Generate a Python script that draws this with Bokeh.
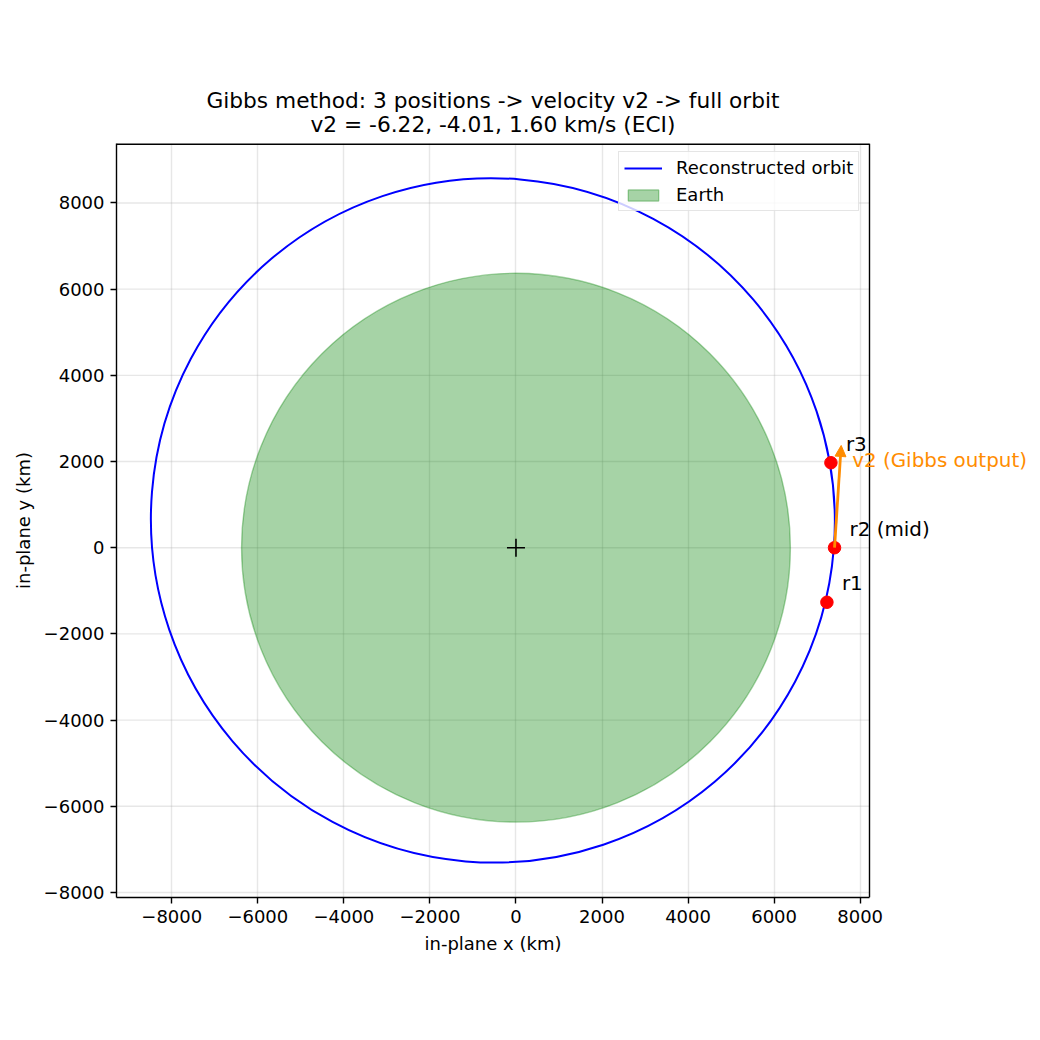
from bokeh.plotting import figure
from bokeh.models import (Range1d, FixedTicker, Title, Legend, LegendItem, Arrow,
                          NormalHead, ColumnDataSource, LabelSet, Label)
from bokeh.core.properties import value
from bokeh.embed import file_html
from bokeh.resources import INLINE

# ---- data ----
point_labels = ["r1", "r2 (mid)", "r3"]
point_x_km = [7227, 7404, 7320]
point_y_km = [-1266, 0, 1972]

orbit_center_x_km = [-537]
orbit_center_y_km = [634]
orbit_major_km = [15936]
orbit_minor_km = [15850]
orbit_angle_rad = [-0.867]

earth_radius_km = [6378]
earth_center_x_km = [0]
earth_center_y_km = [0]

v2_arrow_dx_km = [155]
v2_arrow_dy_km = [2373]

tick_values = [-8000, -6000, -4000, -2000, 0, 2000, 4000, 6000, 8000]

# axis limits of the reference
x_lim = [-9285, 8217]
y_lim = [-8117, 9380]

title_line1 = "Gibbs method: 3 positions -> velocity v2 -> full orbit"
title_line2 = "v2 = -6.22, -4.01, 1.60 km/s (ECI)"
x_label = "in-plane x (km)"
y_label = "in-plane y (km)"

FONT = "DejaVu Sans"
NAN = float("nan")

# ---- layout: the drawing frame extends to the right of the axes box so
# that the annotations that cross the box edge are not clipped ----
W = H = 1040
BL, BT, BB = 116, 143, 143
BOX_W = 753                       # width of the visible axes box in px
BR = 5
frame_w = W - BL - BR
km_per_px = (x_lim[1] - x_lim[0]) / BOX_W
x_end = x_lim[0] + frame_w * km_per_px

p = figure(width=W, height=H, output_backend="svg", toolbar_location=None,
           x_range=Range1d(x_lim[0], x_end), y_range=Range1d(y_lim[0], y_lim[1]),
           min_border_left=BL, min_border_right=BR, min_border_top=BT,
           min_border_bottom=BB)
p.background_fill_color = "white"
p.border_fill_color = "white"
p.outline_line_color = None

# titles (left aligned with offsets so they are centred over the axes box)
p.title.text = title_line1
p.title.align = "left"
p.title.offset = 90
p.title.text_font = FONT
p.title.text_font_size = "21.7px"
p.title.text_font_style = "normal"
p.title.text_color = "black"
p.title.standoff = -21
t2 = Title(text=title_line2, align="left", offset=194, text_font=FONT,
           text_font_size="21.7px", text_font_style="normal", text_color="black",
           standoff=14)
p.add_layout(t2, "above")

# axes
for ax in (p.xaxis, p.yaxis):
    ax.ticker = FixedTicker(ticks=tick_values)
    ax.major_label_overrides = {t: (("\u2212" + str(-t)) if t < 0 else str(t)) for t in tick_values}
    ax.major_tick_out = 6
    ax.major_tick_in = 0
    ax.minor_tick_line_color = None
    ax.major_label_standoff = 6
    ax.major_label_text_font = FONT
    ax.major_label_text_font_size = "18px"
    ax.major_label_text_color = "black"
    ax.axis_label_text_font = FONT
    ax.axis_label_text_font_size = "18px"
    ax.axis_label_text_font_style = "normal"
    ax.axis_label_text_color = "black"
    ax.axis_line_color = "black"
    ax.axis_line_width = 1.4
    ax.major_tick_line_color = "black"
    ax.major_tick_line_width = 1.4
p.xaxis.bounds = (x_lim[0], x_lim[1])
p.yaxis.bounds = (y_lim[0], y_lim[1])
p.yaxis.axis_label = y_label
p.yaxis.axis_label_standoff = 7

# x label centred under the axes box (not under the wider frame)
xl = Title(text=x_label, align="left", offset=308, text_font=FONT,
           text_font_size="18px", text_font_style="normal", text_color="black",
           standoff=10)
p.add_layout(xl, "below")

# grid: vertical lines by the grid, horizontal ones stopped at the box edge
p.xgrid.ticker = FixedTicker(ticks=tick_values)
p.xgrid.grid_line_color = "#b0b0b0"
p.xgrid.grid_line_alpha = 0.3
p.xgrid.grid_line_width = 1.4
p.ygrid.visible = False
p.segment(x0=[x_lim[0]] * len(tick_values), x1=[x_lim[1]] * len(tick_values),
          y0=tick_values, y1=tick_values, line_color="#b0b0b0", line_alpha=0.3,
          line_width=1.4)

# Earth
p.circle(x=earth_center_x_km, y=earth_center_y_km, radius=earth_radius_km[0],
         fill_color="green", fill_alpha=0.35, line_color="green", line_alpha=0.35,
         line_width=1.4)

# orbit
p.ellipse(x=orbit_center_x_km, y=orbit_center_y_km, width=orbit_major_km,
          height=orbit_minor_km, angle=orbit_angle_rad, fill_alpha=0,
          line_color="blue", line_width=2)

# center cross
p.scatter(x=earth_center_x_km, y=earth_center_y_km, marker="cross", size=18,
          line_color="black", line_width=1.6)

# velocity arrow
r2x, r2y = point_x_km[1], point_y_km[1]
arrow_src = ColumnDataSource(dict(xs=[r2x], ys=[r2y],
                                  xe=[r2x + v2_arrow_dx_km[0]],
                                  ye=[r2y + v2_arrow_dy_km[0]]))
p.add_layout(Arrow(x_start="xs", y_start="ys", x_end="xe", y_end="ye", source=arrow_src,
                   line_color="darkorange", line_width=2.8,
                   end=NormalHead(size=11, fill_color="darkorange",
                                  line_color="darkorange", line_width=1)))

# points
pts = ColumnDataSource(dict(x=point_x_km, y=point_y_km, label=point_labels))
p.scatter(x="x", y="y", source=pts, size=12.5, fill_color="red", line_color="red")

# box edges: top and right (left and bottom are the axis lines)
p.segment(x0=[x_lim[0]], x1=[x_lim[1]], y0=[y_lim[1]], y1=[y_lim[1]],
          line_color="black", line_width=2.8)
p.segment(x0=[x_lim[1]], x1=[x_lim[1]], y0=[y_lim[0]], y1=[y_lim[1]],
          line_color="black", line_width=1.4)

p.add_layout(LabelSet(x="x", y="y", text="label", source=pts, x_offset=15, y_offset=12,
                      text_font=value(FONT), text_font_size=value("19.9px"),
                      text_baseline="alphabetic", text_align="left",
                      text_color="black"))

p.add_layout(Label(x=arrow_src.data["xe"][0], y=arrow_src.data["ye"][0],
                   text="v2 (Gibbs output)", x_offset=11, y_offset=-15,
                   text_font=FONT, text_font_size="19.9px",
                   text_baseline="alphabetic", text_align="left",
                   text_color="darkorange"))

# legend with proxy glyphs (NaN data: nothing drawn in the plot area)
orbit_proxy = p.line(x=[NAN], y=[NAN], line_color="blue", line_width=2)
earth_proxy = p.quad(left=[NAN], right=[NAN], top=[NAN], bottom=[NAN], fill_color="green",
                     fill_alpha=0.35, line_color="green", line_alpha=0.35, line_width=1.4)
legend = Legend(items=[LegendItem(label="Reconstructed orbit", renderers=[orbit_proxy]),
                       LegendItem(label="Earth", renderers=[earth_proxy])],
                location=(502, 686), margin=0, padding=5, spacing=6,
                glyph_width=38, glyph_height=14, label_height=20, label_standoff=14,
                label_text_font=FONT, label_text_font_size="18px",
                label_text_color="black",
                border_line_color="#cccccc", border_line_width=1.4,
                background_fill_color="white", background_fill_alpha=0.8)
p.add_layout(legend)

open("out.html", "w").write(file_html(p, INLINE))
